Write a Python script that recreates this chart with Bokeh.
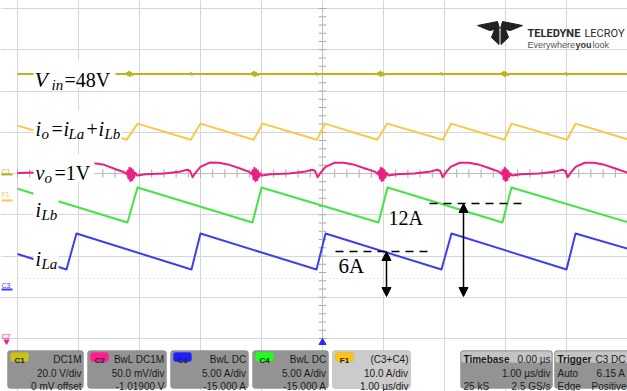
import numpy as np
from bokeh.plotting import figure
from bokeh.models import (Range1d, Grid, FixedTicker, Label, BoxAnnotation, Arrow, NormalHead)
from bokeh.embed import file_html
from bokeh.resources import INLINE

# ---------------- data (time in microseconds, 1.00 us/div) ----------------
# C1 : input voltage Vin (V), 20 V/div, 0 offset
t_vin = [-5.0, -4.21, -4.2, -4.19, -4.17,
         -3.22, -3.205, -3.19, -3.175, -3.16, -3.14, -3.12, -3.09,
         -2.17, -2.155, -2.14, -2.12,
         -1.17, -1.155, -1.14, -1.125, -1.11, -1.09, -1.07, -1.04,
         -0.12, -0.105, -0.09, -0.07,
         0.9, 0.915, 0.93, 0.945, 0.96, 0.98, 1.0, 1.03,
         1.93, 1.945, 1.96, 1.98,
         2.93, 2.945, 2.96, 2.975, 2.99, 3.01, 3.03, 3.06,
         3.98, 3.995, 4.01, 4.03, 5.0]
vin = [48.3, 48.3, 48.7, 47.9, 48.3,
       48.3, 48.8, 47.7, 49.3, 47.2, 49.0, 47.7, 48.3,
       48.3, 48.7, 47.9, 48.3,
       48.3, 48.8, 47.7, 49.3, 47.2, 49.0, 47.7, 48.3,
       48.3, 48.7, 47.9, 48.3,
       48.3, 48.8, 47.7, 49.3, 47.2, 49.0, 47.7, 48.3,
       48.3, 48.7, 47.9, 48.3,
       48.3, 48.8, 47.7, 49.3, 47.2, 49.0, 47.7, 48.3,
       48.3, 48.7, 47.9, 48.3, 48.3]

# F1 : output current io = iLa + iLb (A), 10 A/div
t_io = [-5.0, -4.2, -4.04, -3.21, -3.03, -2.16, -2.0, -1.13, -0.98, -0.09,
        0.04, 0.9, 1.06, 1.97, 2.11, 2.98, 3.1, 4.01, 4.15, 5.0]
io = [18.4, 15.0, 18.9, 15.0, 18.9, 15.0, 18.9, 15.0, 18.9, 15.0,
      18.9, 15.0, 18.9, 15.0, 18.9, 15.0, 18.9, 15.0, 18.9, 15.1]

# C2 : output voltage vo (mV), 50 mV/div, offset -1.019 V
t_vo = [-5.0, -4.6, -4.35, -4.25, -4.18, -4.12, -4.05, -3.9, -3.75, -3.6, -3.4, -3.25,
        -3.21, -3.195, -3.18, -3.165, -3.15, -3.135, -3.12, -3.105, -3.09, -3.07, -3.04,
        -2.9, -2.6, -2.35, -2.22, -2.17, -2.13, -2.08, -2.0, -1.85, -1.7, -1.55, -1.35, -1.2,
        -1.16, -1.145, -1.13, -1.115, -1.10, -1.085, -1.07, -1.055, -1.04, -1.02, -0.99,
        -0.85, -0.55, -0.3, -0.17, -0.12, -0.08, -0.03, 0.05, 0.2, 0.35, 0.5, 0.7, 0.87,
        0.91, 0.925, 0.94, 0.955, 0.97, 0.985, 1.0, 1.015, 1.03, 1.05, 1.08,
        1.22, 1.5, 1.75, 1.88, 1.93, 1.97, 2.02, 2.1, 2.25, 2.4, 2.55, 2.75, 2.9,
        2.94, 2.955, 2.97, 2.985, 3.0, 3.015, 3.03, 3.045, 3.06, 3.08, 3.11,
        3.25, 3.55, 3.8, 3.93, 3.98, 4.02, 4.07, 4.15, 4.3, 4.45, 4.6, 4.8, 5.0]
vo_mv = [1019.5, 1020.5, 1022.5, 1022, 1014.5, 1020, 1027, 1032, 1031.5, 1030, 1024.5, 1020.5,
         1018, 1022, 1013, 1026, 1010, 1025, 1011, 1023, 1014, 1020, 1016.5,
         1018, 1019, 1021, 1023.5, 1022, 1014.5, 1020, 1027, 1032.3, 1032, 1030, 1025, 1021,
         1018, 1023, 1012, 1026, 1010, 1024, 1011, 1022, 1015, 1019, 1016.5,
         1018, 1019, 1021, 1023.5, 1022, 1014.5, 1020, 1027, 1032, 1032, 1030, 1025, 1021,
         1018, 1022, 1013, 1026, 1010, 1025, 1011, 1023, 1014, 1020, 1016.5,
         1018, 1019, 1021, 1023.5, 1022, 1014.5, 1020, 1027, 1032, 1032, 1030, 1025, 1021,
         1018, 1023, 1012, 1026, 1010, 1024, 1011, 1022, 1015, 1019, 1016.5,
         1018, 1019, 1021, 1023.5, 1022, 1014.5, 1020, 1027, 1032, 1032, 1030, 1025, 1020]

# C4 : inductor current iLb (A), 5 A/div, offset -15 A
t_ilb = [-5.0, -3.197, -3.033, -1.148, -1.0, 0.918, 1.066, 2.95, 3.098, 5.0]
ilb = [13.15, 9.06, 13.3, 9.06, 13.3, 9.06, 13.3, 9.06, 13.3, 9.1]

# C3 : inductor current iLa (A), 5 A/div, offset -15 A
t_ila = [-5.0, -4.197, -4.033, -2.148, -2.0, -0.098, 0.05, 1.95, 2.115, 4.0, 4.148, 5.0]
ila = [5.25, 3.36, 7.73, 3.36, 7.73, 3.36, 7.73, 3.36, 7.73, 3.36, 7.73, 5.9]

# channel settings
C1_SCALE, C1_OFFSET = 20.0, 0.0
C2_SCALE, C2_OFFSET = 50.0, -1019.0    # mV
C3_SCALE, C3_OFFSET = 5.0, -15.0
C4_SCALE, C4_OFFSET = 5.0, -15.0
F1_SCALE, F1_ZERO_DIV = 10.0, -0.68

def to_div(vals, scale, offset):
    return [(v + offset) / scale for v in vals]

# ---------------- geometry helpers (picture pixels -> µs / divisions) ----------------
PX0, PXU, PY0, PYU = 322.0, 61.0, 173.0, 41.25
def X(px): return (px - PX0) / PXU
def Y(py): return (PY0 - py) / PYU

W, H = 627, 391
p = figure(width=W, height=H, x_range=Range1d(X(0), X(W)), y_range=Range1d(Y(H), Y(0)),
           output_backend="svg", toolbar_location=None, x_axis_location=None, y_axis_location=None,
           min_border=0, outline_line_color=None, background_fill_color="white",
           border_fill_color="white")
for r in p.center:
    r.visible = False

GRID_C = "#d6d6d6"
p.add_layout(Grid(dimension=0, ticker=FixedTicker(ticks=list(range(-5, 6))), bounds=(-4, 4),
                  grid_line_color=GRID_C, grid_line_width=1))
p.add_layout(Grid(dimension=1, ticker=FixedTicker(ticks=list(range(-4, 5))), bounds=(-5, 5),
                  grid_line_color=GRID_C, grid_line_width=1))

# faint dotted level line
p.segment(x0=[-5], y0=[Y(278)], x1=[5], y1=[Y(278)], line_color="#d0d0d0", line_dash="1 3", line_width=1)

# center axis ticks
ty = np.arange(-4, 4.001, 0.2)
p.segment(x0=[-0.06] * len(ty), y0=ty, x1=[0.06] * len(ty), y1=ty, line_color="#a8a8a8", line_width=1)
tx = np.arange(-5, 5.001, 0.2)
p.segment(x0=tx, y0=[-0.1] * len(tx), x1=tx, y1=[0.1] * len(tx), line_color="#a8a8a8", line_width=1)
p.segment(x0=[0], y0=[-4], x1=[0], y1=[4], line_color="#bdbdbd", line_width=1)
p.segment(x0=[-5], y0=[0], x1=[5], y1=[0], line_color="#bdbdbd", line_width=1)

# traces
kw = dict(line_width=2, line_join="round")
p.line(t_vin, to_div(vin, C1_SCALE, C1_OFFSET), line_color="#bdb41c", **kw)
p.line(t_io, [v / F1_SCALE + F1_ZERO_DIV for v in io], line_color="#f7c84a", **kw)
p.line(t_vo, to_div(vo_mv, C2_SCALE, C2_OFFSET), line_color="#ea1f84", **kw)
p.line(t_ilb, to_div(ilb, C4_SCALE, C4_OFFSET), line_color="#45e445", **kw)
p.line(t_ila, to_div(ila, C3_SCALE, C3_OFFSET), line_color="#3e3ef0", **kw)

# trigger marker
p.scatter([0], [Y(342)], marker="triangle", size=7, fill_color="#2a2af5", line_color="#2a2af5")

# ---------------- annotations ----------------
def wbox(l, r, t, b):
    p.add_layout(BoxAnnotation(left=X(l), right=X(r), top=Y(t), bottom=Y(b),
                               fill_color="white", fill_alpha=1, line_alpha=0))

def lab(px, py, text, size=20, italic=False, font="Liberation Serif", color="black",
        align="left", bold=False):
    style = "italic" if italic else ("bold" if bold else "normal")
    p.add_layout(Label(x=X(px), y=Y(py), text=text, text_font=font, text_font_size=f"{size}px",
                       text_font_style=style, text_color=color, text_align=align,
                       text_baseline="alphabetic"))

wbox(33, 115, 60, 87)
wbox(33, 121, 110, 141)
wbox(33, 94, 154, 181)
wbox(33, 58, 190, 219)
wbox(33, 58, 240, 268)

lab(34, 79, "V", size=22, italic=True)
lab(51, 84, "in", size=15, italic=True)
lab(64, 79, "=48V")

lab(35, 128, "i", italic=True)
lab(41, 133, "o", size=15, italic=True)
lab(51, 128, "=")
lab(63, 128, "i", italic=True)
lab(68, 133, "La", size=15, italic=True)
lab(86, 128, "+")
lab(98, 128, "i", italic=True)
lab(104, 133, "Lb", size=15, italic=True)

lab(35, 172, "v", italic=True)
lab(44, 177, "o", size=15, italic=True)
lab(54, 172, "=1V")

lab(35, 209, "i", italic=True)
lab(41, 214, "Lb", size=15, italic=True)
lab(35, 258, "i", italic=True)
lab(41, 263, "La", size=15, italic=True)

lab(388, 217, "12A")
lab(338, 265, "6A", size=21)

p.segment(x0=[X(335), X(429)], y0=[Y(251), Y(203)], x1=[X(430), X(523)], y1=[Y(251), Y(203)],
          line_color="black", line_width=1.5, line_dash="8 6")
for ax_, ytop in [(386, 251), (463, 203)]:
    p.add_layout(Arrow(x_start=X(ax_), y_start=Y(296), x_end=X(ax_), y_end=Y(ytop),
                       start=NormalHead(size=9, fill_color="black", line_color="black"),
                       end=NormalHead(size=9, fill_color="black", line_color="black"),
                       line_color="black", line_width=1.5))

# logo
wing_l = ([477, 497, 499, 489], [25, 21, 28, 30])
wing_r = ([522, 502, 500, 510], [25, 21, 28, 30])
leg_l = ([494, 498.5, 498.5, 491], [29, 29, 44, 37])
leg_r = ([505, 500.5, 500.5, 508], [29, 29, 44, 37])
for xs, ys in [wing_l, wing_r, leg_l, leg_r]:
    p.patch([X(v) for v in xs], [Y(v) for v in ys], fill_color="#222222", line_color="#222222")
lab(527, 33, "TELEDYNE", size=11, font="Roboto", bold=True, color="#2a2a2a")
lab(624, 33, "LECROY", size=11, font="Roboto", color="#2a2a2a", align="right")
lab(527, 44, "Everywhere", size=9, font="Liberation Sans", color="#555555")
lab(575, 44, "you", size=9, font="Liberation Sans", bold=True, color="#333333")
lab(592, 44, "look", size=9, font="Liberation Sans", color="#555555")

# left channel markers
lab(1, 171, "C1", size=7, font="Liberation Sans", color="#bdb41c")
lab(1, 194, "F1", size=7, font="Liberation Sans", color="#f7c84a")
lab(1, 285, "C3", size=7, font="Liberation Sans", color="#3e3ef0")
lab(1, 336, "C2", size=7, font="Liberation Sans", color="#ea1f84")
p.segment(x0=[X(1), X(1), X(1)], y0=[Y(174), Y(200), Y(289)], x1=[X(12), X(12), X(12)],
          y1=[Y(174), Y(200), Y(289)], line_color=["#bdb41c", "#f7c84a", "#3e3ef0"], line_width=2)
p.scatter([X(6)], [Y(341)], marker="inverted_triangle", size=5, fill_color="#ea1f84", line_color="#ea1f84")

# ---------------- bottom info panel ----------------
def pbox(l, r, t, b, fill, line="#6a6a6a", radius=3):
    p.add_layout(BoxAnnotation(left=X(l), right=X(r), top=Y(t), bottom=Y(b), fill_color=fill,
                               fill_alpha=1, line_color=line, line_width=1, border_radius=radius))

def ptxt(px, py, text, align="right", bold=False, color="#1b1b1b", size=10):
    lab(px, py, text, size=size, font="Liberation Sans", align=align, bold=bold, color=color)

chan_boxes = [
    (7, 83, "C1", "#c8c21a", ["DC1M", "20.0 V/div", "0 mV offset"]),
    (87, 166, "C2", "#ff1e8c", ["BwL DC1M", "50.0 mV/div", "-1.01900 V"]),
    (170, 248, "C3", "#1e1eff", ["BwL DC", "5.00 A/div", "-15.000 A"]),
    (252, 328, "C4", "#1eff1e", ["BwL DC", "5.00 A/div", "-15.000 A"]),
]
for l, r, name, col, rows in chan_boxes:
    pbox(l, r, 350, 388, "#939393")
    pbox(l + 3, l + 21, 352, 361, col, line=col, radius=2)
    ptxt(l + 12, 360, name, align="center", bold=True, size=8, color="#222222")
    for row, yb in zip(rows, [359, 373, 386]):
        ptxt(r - 2, yb, row)

pbox(332, 410, 350, 388, "#cbcbcb", line="#8a8a8a")
pbox(335, 353, 352, 361, "#ffc21a", line="#e0a800", radius=2)
ptxt(344, 360, "F1", align="center", bold=True, size=8, color="#222222")
for row, yb in zip(["(C3+C4)", "10.0 A/div", "1.00 µs/div"], [359, 373, 386]):
    ptxt(408, yb, row)

for l, r in [(460, 552), (554, 640)]:
    pbox(l, r, 350, 388, "#939393")
    pbox(l + 1, r - 1, 351, 362, "#c4c4c4", line="#c4c4c4", radius=2)
ptxt(463, 359, "Timebase", align="left", bold=True)
ptxt(550, 359, "0.00 µs")
ptxt(550, 373, "1.00 µs/div")
ptxt(463, 386, "25 kS", align="left")
ptxt(550, 386, "2.5 GS/s")
ptxt(557, 359, "Trigger", align="left", bold=True)
ptxt(625, 359, "C3 DC")
ptxt(557, 373, "Auto", align="left")
ptxt(625, 373, "6.15 A")
ptxt(557, 386, "Edge", align="left")
ptxt(626, 386, "Positive")

open("out.html", "w").write(file_html(p, INLINE))
